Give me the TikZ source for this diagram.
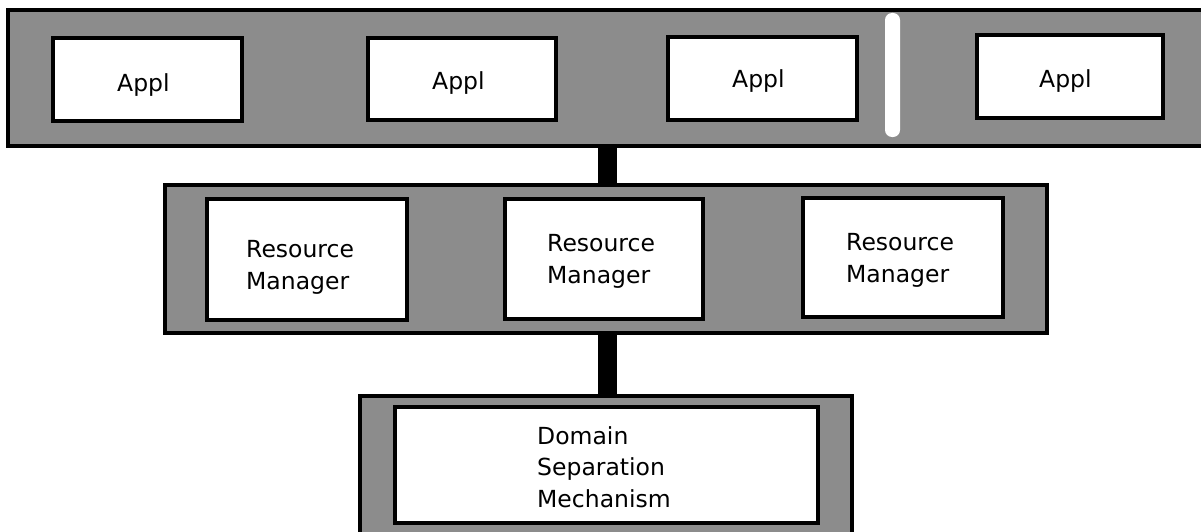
\documentclass[tikz,border=0pt]{standalone}
\usepackage{fontspec}
\setmainfont{DejaVu Sans}
\begin{document}
\begin{tikzpicture}[x=1pt,y=-1pt,
  band/.style={draw=black, line width=3.5pt, fill=black!45, inner sep=0pt, outer sep=0pt},
  box/.style={draw=black, line width=3.5pt, fill=white, inner sep=0pt, outer sep=0pt},
  lbl/.style={anchor=base west, inner sep=0pt, align=left, font=\fontsize{23.5}{31.5}\selectfont},
  bar/.style={line width=19pt, draw=black},
  sep/.style={fill=white, draw=none, rounded corners=7pt, inner sep=0pt, minimum width=15pt, minimum height=124pt}]
\useasboundingbox (0,0) rectangle (1201,532);
\clip (0,0) rectangle (1201,532);
% bands
\node[band, minimum width=1210pt, minimum height=136pt] (top) at (613,78) {};
\node[band, minimum width=882pt, minimum height=148pt] (mid) at (606,259) {};
\node[band, minimum width=492pt, minimum height=150pt] (bot) at (606,471) {};
% connectors
\coordinate (cx) at (607.5,0);
\draw[bar] (cx |- top.south) -- (cx |- mid.north);
\draw[bar] (cx |- mid.south) -- (cx |- bot.north);
% separator
\node[sep] (sp) at (892.5,75) {};
% application boxes
\node[box, minimum width=189pt, minimum height=83pt] (a1) at (147.5,79.5) {};
\node[box, minimum width=188pt, minimum height=82pt] (a2) at (462,79) {};
\node[box, minimum width=189pt, minimum height=83pt] (a3) at (762.5,78.5) {};
\node[box, minimum width=186pt, minimum height=83pt] (a4) at (1070,76.5) {};
\node[lbl] (t1) at (117,92) {Appl};
\node[lbl] (t2) at (432,90) {Appl};
\node[lbl] (t3) at (732,88) {Appl};
\node[lbl] (t4) at (1039,88) {Appl};
% resource managers
\node[box, minimum width=200pt, minimum height=121pt] (r1) at (307,259.5) {};
\node[box, minimum width=198pt, minimum height=120pt] (r2) at (604,259) {};
\node[box, minimum width=200pt, minimum height=119pt] (r3) at (903,257.5) {};
\node[lbl] (rt1) at (246,289) {Resource\\Manager};
\node[lbl] (rt2) at (547,283) {Resource\\Manager};
\node[lbl] (rt3) at (846,282) {Resource\\Manager};
% domain separation mechanism
\node[box, minimum width=423pt, minimum height=116pt] (d) at (606.5,465) {};
\node[lbl] (dt) at (537,507) {Domain\\Separation\\Mechanism};
\end{tikzpicture}
\end{document}
